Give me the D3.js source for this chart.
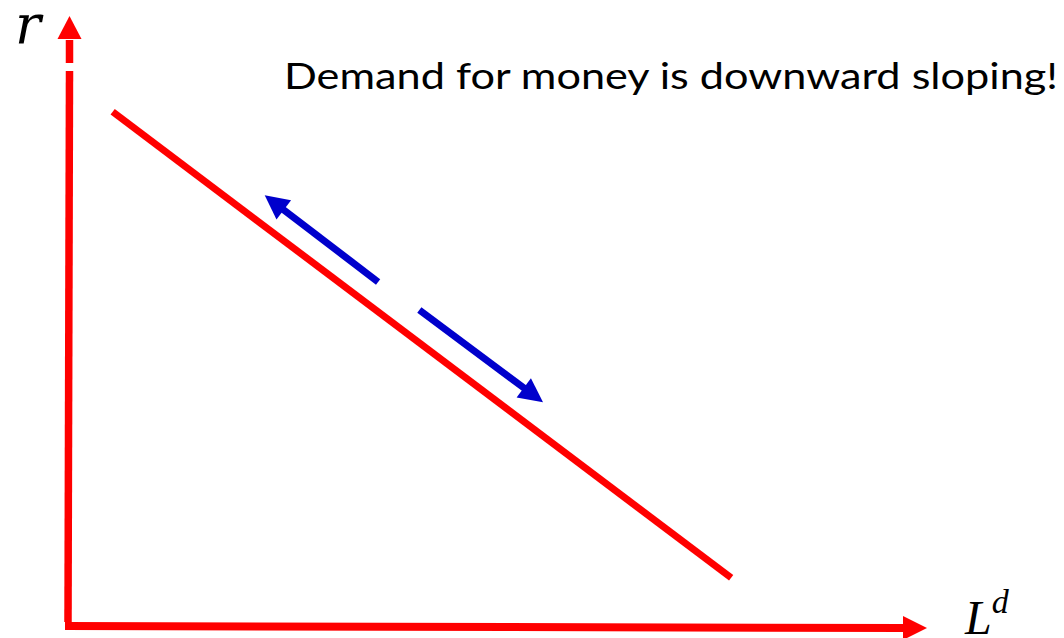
<!DOCTYPE html>
<html><head><meta charset="utf-8">
<script src="https://cdn.jsdelivr.net/npm/d3@7"></script>
<style>body{margin:0;background:#fff}svg{display:block}</style>
</head><body>
<svg id="c" width="1064" height="638"></svg>
<script>
// Data (abstract units 0..100)
const demandCurve = [{q: 5.2, r: 84.3}, {q: 77.2, r: 7.9}];
const arrowUp = [{q: 36.1, r: 56.4}, {q: 22.9, r: 70.6}];
const arrowDown = [{q: 40.9, r: 51.8}, {q: 55.3, r: 36.7}];
const titleText = "Demand for money is downward sloping!";
const yLabel = "r";
const xLabel = "L";
const xLabelSup = "d";

const svg = d3.select("#c");
const x = d3.scaleLinear().domain([0, 100]).range([68, 927]);
const y = d3.scaleLinear().domain([0, 100]).range([626, 16]);
const line = d3.line().x(d => x(d.q)).y(d => y(d.r));

const RED = "#ff0000", BLUE = "#0000cc";

// Y axis: shaft (with small gap) + arrowhead
const yGapTop = y.invert(63), yGapBot = y.invert(71), yHeadBase = y.invert(39);
svg.append("line").attr("x1", x(0)).attr("y1", y(0) - 4).attr("x2", x(0) + 1.5).attr("y2", y(yGapBot))
  .attr("stroke", RED).attr("stroke-width", 7.5);
svg.append("line").attr("x1", x(0) + 1.5).attr("y1", y(yGapTop)).attr("x2", x(0) + 1.5).attr("y2", y(yHeadBase) + 1)
  .attr("stroke", RED).attr("stroke-width", 7.5);
svg.append("path")
  .attr("d", `M${x(0) + 1.5},${y(100)} L${x(0) + 13.5},${y(yHeadBase)} L${x(0) - 10.5},${y(yHeadBase)} Z`)
  .attr("fill", RED);

// X axis: shaft + arrowhead
const xHeadBase = x.invert(903);
svg.append("line").attr("x1", x(0) - 3).attr("y1", y(0)).attr("x2", x(xHeadBase) + 1).attr("y2", y(0) + 2)
  .attr("stroke", RED).attr("stroke-width", 8);
svg.append("path")
  .attr("d", `M${x(100)},${y(0) + 2} L${x(xHeadBase)},${y(0) - 10} L${x(xHeadBase)},${y(0) + 14} Z`)
  .attr("fill", RED);

// Demand curve
svg.append("path").datum(demandCurve).attr("d", line)
  .attr("stroke", RED).attr("stroke-width", 7).attr("fill", "none");

// Blue arrows
function arrow(pts) {
  const [a, b] = pts;
  const x1 = x(a.q), y1 = y(a.r), x2 = x(b.q), y2 = y(b.r);
  const ang = Math.atan2(y2 - y1, x2 - x1);
  const L = 24, W = 12;
  const bx = x2 - L * Math.cos(ang), by = y2 - L * Math.sin(ang);
  svg.append("line").attr("x1", x1).attr("y1", y1).attr("x2", bx + 2 * Math.cos(ang)).attr("y2", by + 2 * Math.sin(ang))
    .attr("stroke", BLUE).attr("stroke-width", 7);
  const px = -Math.sin(ang), py = Math.cos(ang);
  svg.append("path")
    .attr("d", `M${x2},${y2} L${bx + W * px},${by + W * py} L${bx - W * px},${by - W * py} Z`)
    .attr("fill", BLUE);
}
arrow(arrowUp);
arrow(arrowDown);

// Labels
svg.append("text").attr("x", 15).attr("y", 43)
  .attr("font-family", "'DejaVu Serif', serif").attr("font-style", "italic")
  .attr("font-size", 54).attr("fill", "#000").text(yLabel);

const lt = svg.append("text").attr("x", 965).attr("y", 634)
  .attr("font-family", "'Liberation Serif', serif").attr("font-style", "italic")
  .attr("font-size", 48).attr("fill", "#000");
lt.append("tspan").text(xLabel);
lt.append("tspan").attr("font-size", 34).attr("dy", -21).attr("dx", 0).text(xLabelSup);

svg.append("text").attr("x", 284).attr("y", 89)
  .attr("font-family", "Lato, sans-serif")
  .attr("font-size", 37).attr("fill", "#000")
  .attr("textLength", 774).attr("lengthAdjust", "spacingAndGlyphs")
  .text(titleText);
</script>
</body></html>
